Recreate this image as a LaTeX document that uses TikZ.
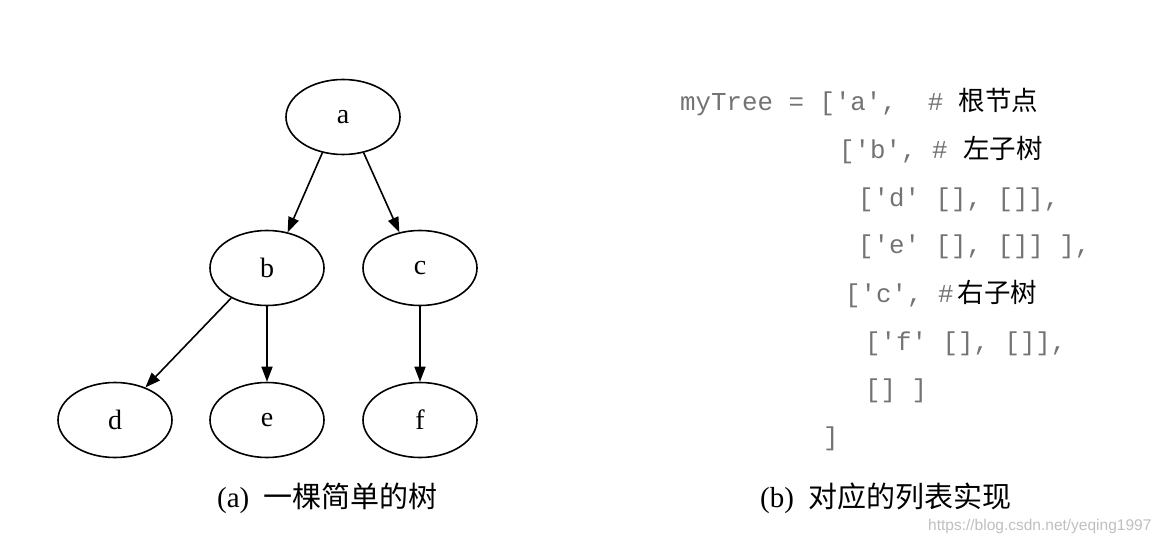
\documentclass[tikz,border=0pt]{standalone}
\usepackage{fontspec}
\setmainfont{Liberation Serif}
\setmonofont{Liberation Mono}
\newfontfamily\cjk{Noto Sans CJK SC}
\newfontfamily\wmfont{Liberation Sans}
\usetikzlibrary{shapes.geometric,arrows.meta}
\newcommand{\cmt}[1]{{\color{black}\cjk\fontsize{26.5}{30}\selectfont #1}}

\begin{document}
\begin{tikzpicture}[x=1pt,y=-1pt]

    \useasboundingbox (0,0) rectangle (1166,545);
    \tikzset{treenode/.style={draw,shape=ellipse,line width=1.6pt,minimum width=114pt,minimum height=75pt,inner sep=0pt,font=\fontsize{28}{32}\selectfont},
             codeline/.style={anchor=base west,inner sep=0pt,text=black!55,font=\fontsize{25.8}{30}\ttfamily},
             caption/.style={anchor=base west,inner sep=0pt,font=\fontsize{29}{34}\selectfont}}

    % the tree
    \node[treenode] (a) at (343,117) {a};
    \node[treenode] (b) at (267,268) {b};
    \node[treenode] (c) at (420,268) {c};
    \node[treenode] (d) at (115,420) {d};
    \node[treenode] (e) at (267,420) {e};
    \node[treenode] (f) at (420,420) {f};

    \begin{scope}[every path/.style={-{Triangle[length=15pt,width=11pt]},line width=1.6pt}]
        \draw (a.240) -- (b.60);
        \draw (a.300) -- (c.120);
        \draw (b.220) -- (d.47);
        \draw (b) -- (e);
        \draw (c) -- (f);
    \end{scope}

    % the list
    \node[codeline] (l1) at (680,111) {myTree = ['a',\ \ \# \cmt{根节点}};
    \node[codeline] (l2) at (839,159) {['b', \# \cmt{左子树}};
    \node[codeline] (l3) at (858,207) {['d' [], []],};
    \node[codeline] (l4) at (858,254) {['e' [], []] ],};
    \node[codeline] (l5) at (845,302) {['c', \#\,\cmt{右子树}};
    \node[codeline] (l6) at (865,350) {['f' [], []],};
    \node[codeline] (l7) at (865,397) {[] ]};
    \node[codeline] (l8) at (823,445) {]};

    \node[caption] (capa) at (217,507) {(a)\ \ \cjk 一棵简单的树};
    \node[caption] (capb) at (760,507) {(b)\ \ \cjk 对应的列表实现};

    \node[anchor=base west,inner sep=0pt,text=black!25,font=\wmfont\fontsize{15.5}{18}\selectfont] (wm) at (928,530) {https://blog.csdn.net/yeqing1997};
\end{tikzpicture}
\end{document}
